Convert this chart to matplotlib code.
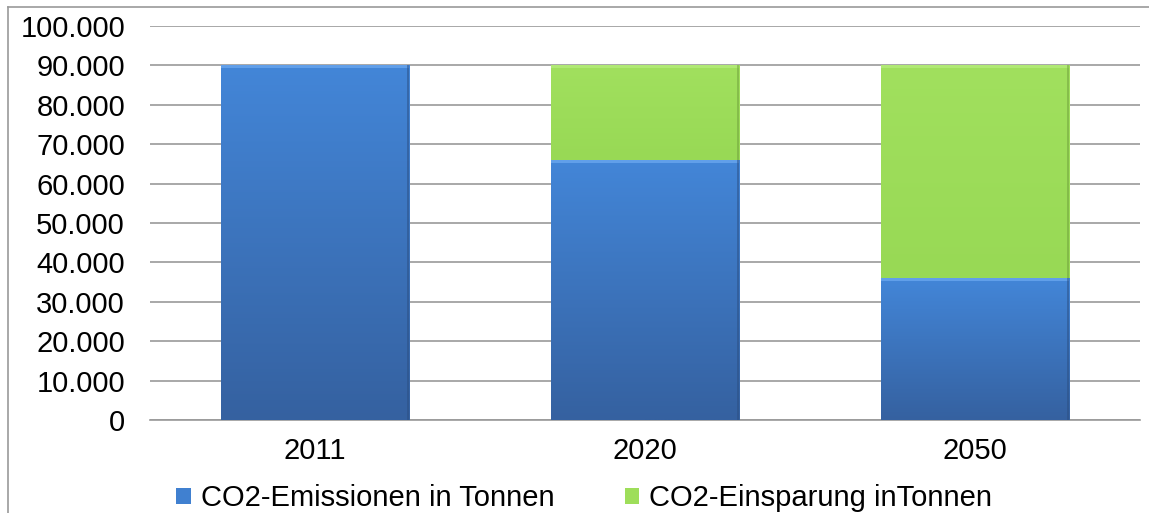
import numpy as np
import matplotlib.pyplot as plt
from matplotlib.colors import LinearSegmentedColormap
from matplotlib.lines import Line2D
from matplotlib.ticker import FuncFormatter

plt.rcParams['font.family'] = ['Liberation Sans', 'DejaVu Sans']

years = ['2011', '2020', '2050']
emissionen = [90000, 66000, 36000]
einsparung = [0, 24000, 54000]
labels = ['CO2-Emissionen in Tonnen', 'CO2-Einsparung inTonnen']

blue_cmap = LinearSegmentedColormap.from_list('b', ['#3561a0', '#4386d8'])
green_cmap = LinearSegmentedColormap.from_list('g', ['#98d955', '#a1e05e'])

fig = plt.figure(figsize=(11.49, 5.13), dpi=100)
ax = fig.add_axes([150 / 1149, 1 - 420 / 513, 990 / 1149, 394 / 513])

x = np.arange(len(years))
w = 0.57
grad = np.linspace(0, 1, 256).reshape(-1, 1)


def shaded(bars, cmap, edge, top):
    for b in bars:
        if b.get_height() <= 0:
            continue
        x0, y0 = b.get_x(), b.get_y()
        x1, y1 = x0 + b.get_width(), y0 + b.get_height()
        im = ax.imshow(grad, cmap=cmap, aspect='auto', origin='lower',
                       extent=[x0, x1, y0, y1], zorder=3)
        im.set_clip_path(b)
        # thin highlight along the top, darker rim on the right
        ax.fill_between([x0, x1], y1 - 700, y1, color=top, alpha=0.8, zorder=4, lw=0)
        ax.fill_between([x1 - 0.006, x1], y0, y1, color=edge, alpha=0.5, zorder=4, lw=0)


b1 = ax.bar(x, emissionen, w, color='#4080d0', zorder=2, lw=0, label=labels[0])
b2 = ax.bar(x, einsparung, w, bottom=emissionen, color='#9ede5a', zorder=2, lw=0, label=labels[1])
shaded(b1, blue_cmap, '#2c4f82', '#6aa6ee')
shaded(b2, green_cmap, '#6f9f3c', '#b5ec7a')

ax.set_xlim(-0.5, 2.5)
ax.set_ylim(0, 100000)
ax.set_yticks(np.arange(0, 100001, 10000))
ax.yaxis.set_major_formatter(FuncFormatter(lambda v, p: f'{int(v):,}'.replace(',', '.')))
ax.set_xticks(x)
ax.set_xticklabels(years)
ax.tick_params(axis='both', length=0, labelsize=21, colors='black')
ax.tick_params(axis='y', pad=18)
ax.tick_params(axis='x', pad=12)
ax.yaxis.grid(True, color='#9a9a9a', lw=1.2, zorder=0)
ax.set_axisbelow(True)
for s in ['top', 'right', 'left']:
    ax.spines[s].set_visible(False)
ax.spines['bottom'].set_color('#9a9a9a')
ax.spines['bottom'].set_linewidth(1.2)

fig.legend(handles=[b1, b2], labels=labels, loc='lower left',
           bbox_to_anchor=(150 / 1149, -0.05), ncol=2, frameon=False,
           fontsize=21, handlelength=0.5, handleheight=0.5,
           handletextpad=0.35, columnspacing=2.4)

# outer chart frame
fig.add_artist(Line2D([8 / 1149, 8 / 1149], [0, 1 - 7 / 513], color='#9a9a9a', lw=1.2))
fig.add_artist(Line2D([8 / 1149, 1], [1 - 7 / 513, 1 - 7 / 513], color='#9a9a9a', lw=1.2))

fig.savefig('out.png', dpi=100)
